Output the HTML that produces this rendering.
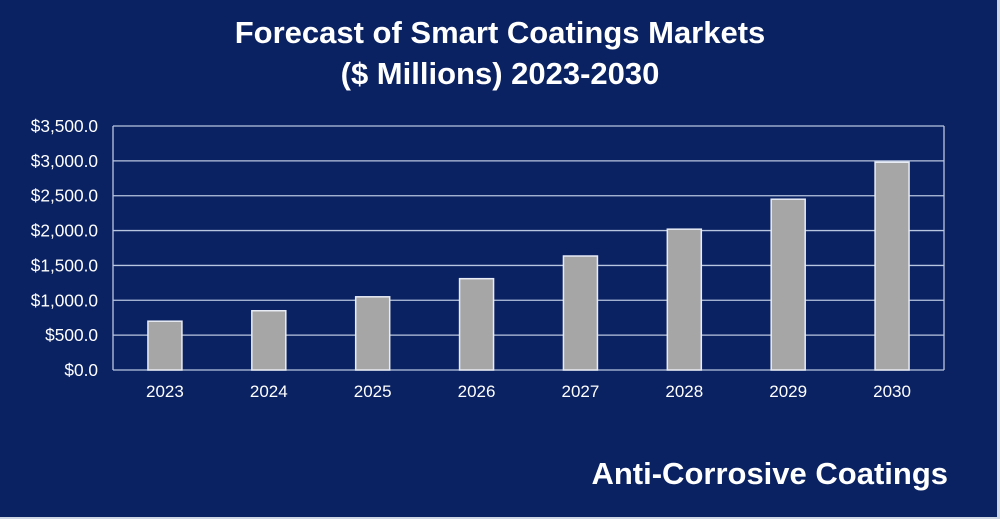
<!DOCTYPE html>
<html><head><meta charset="utf-8"><style>
html,body{margin:0;padding:0;background:#cfd6e4;}
#c{position:absolute;left:0;top:0;width:997px;height:517px;background:#0a2162;overflow:hidden;}
svg text{font-family:"Liberation Sans",sans-serif;}
</style></head><body>
<div id="c">
<svg width="1000" height="519" id="s">
<text x="500" y="43" text-anchor="middle" font-size="31" font-weight="bold" fill="#fff">Forecast of Smart Coatings Markets</text>
<text x="500" y="84" text-anchor="middle" font-size="31" font-weight="bold" fill="#fff">($ Millions) 2023-2030</text>
<text x="948" y="484" text-anchor="end" font-size="31" font-weight="bold" fill="#fff">Anti-Corrosive Coatings</text>
<g id="plot"></g>
</svg></div>
<script>
const categories=["2023","2024","2025","2026","2027","2028","2029","2030"];
const values=[700,850,1050,1310,1635,2020,2450,2980];
const yTicks=[0,500,1000,1500,2000,2500,3000,3500];
const yTickLabels=["$0.0","$500.0","$1,000.0","$1,500.0","$2,000.0","$2,500.0","$3,000.0","$3,500.0"];
const L=113,R=944,T=126,B=370,yMax=3500;
const ns="http://www.w3.org/2000/svg";
const g=document.getElementById('plot');
function y(v){return B-(v/yMax)*(B-T);}
const bw=(R-L)/categories.length;
function x(i){return L+bw*(i+0.5);}
function el(t,a){const e=document.createElementNS(ns,t);for(const k in a)e.setAttribute(k,a[k]);g.appendChild(e);return e;}
yTicks.forEach((v,i)=>{
 const ln=el('line',{x1:L,x2:R,y1:y(v),y2:y(v),stroke:'#b9c6e0','stroke-width':1.3});
 
 
 const t=el('text',{x:L-15,y:y(v)+6,'text-anchor':'end','font-size':17.3,fill:'#fff'});
 t.textContent=yTickLabels[i];
 
 
});
const ax=el('line',{x1:L,x2:L,y1:T,y2:B,stroke:'#b9c6e0','stroke-width':1.3});


const ax2=el('line',{x1:R,x2:R,y1:T,y2:B,stroke:'#b9c6e0','stroke-width':1.3});


categories.forEach((c,i)=>{
 const r=el('rect',{x:x(i)-17,y:y(values[i]),width:34,height:B-y(values[i]),fill:'#a6a6a6',stroke:'#e8ecf4','stroke-width':1.5});
 
 
 const t=el('text',{x:x(i),y:397,'text-anchor':'middle','font-size':17,fill:'#fff'});
 t.textContent=c;
 
 
});
</script>
</body></html>
